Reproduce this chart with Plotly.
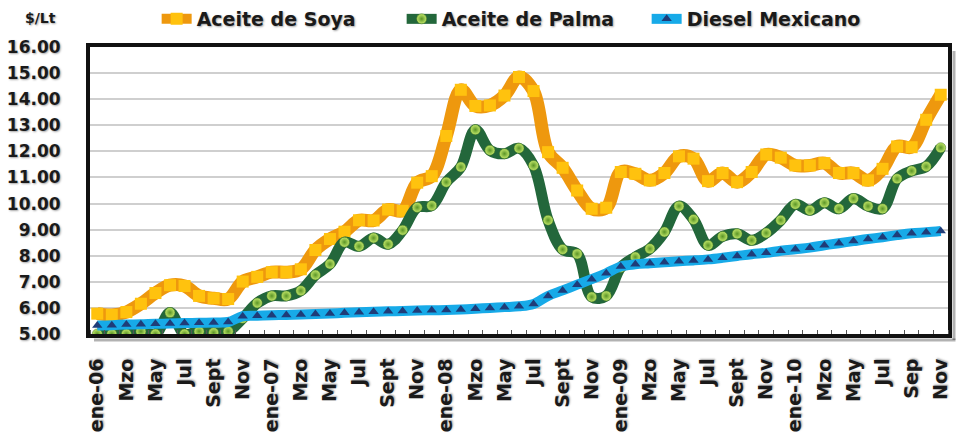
import plotly.graph_objects as go

# ---------------- data ----------------
months = ["ene", "feb", "mzo", "abr", "may", "jun", "jul", "ago", "sep", "oct", "nov", "dic"]
years = ["06", "07", "08", "09", "10"]
categories = [f"{m}-{y}" for y in years for m in months][:59]  # ene-06 .. nov-10

tick_labels = ["ene-06", "Mzo", "May", "Jul", "Sept", "Nov",
               "ene-07", "Mzo", "May", "Jul", "Sept", "Nov",
               "ene-08", "Mzo", "May", "Jul", "Sept", "Nov",
               "ene-09", "Mzo", "May", "Jul", "Sept", "Nov",
               "ene-10", "Mzo", "May", "Jul", "Sep", "Nov"]

soya = [5.78, 5.73, 5.84, 6.16, 6.57, 6.87, 6.84, 6.46, 6.37, 6.34,
        7.01, 7.19, 7.37, 7.37, 7.48, 8.22, 8.64, 8.92, 9.36, 9.35,
        9.77, 9.72, 10.80, 11.05, 12.59, 14.36, 13.74, 13.76, 14.14, 14.85,
        14.31, 11.97, 11.37, 10.50, 9.80, 9.84, 11.21, 11.14, 10.89, 11.17,
        11.81, 11.72, 10.86, 11.17, 10.82, 11.21, 11.88, 11.76, 11.46, 11.46,
        11.55, 11.17, 11.17, 10.89, 11.33, 12.19, 12.16, 13.21, 14.17]

palma = [5.00, 5.00, 5.00, 5.10, 5.00, 5.82, 5.00, 5.10, 5.05, 5.10,
         5.60, 6.19, 6.46, 6.46, 6.66, 7.26, 7.68, 8.52, 8.36, 8.68,
         8.44, 8.98, 9.85, 9.92, 10.82, 11.40, 12.83, 12.04, 11.91, 12.12,
         11.46, 9.36, 8.24, 8.07, 6.42, 6.46, 7.55, 7.95, 8.27, 8.91,
         9.90, 9.39, 8.40, 8.74, 8.84, 8.59, 8.87, 9.36, 9.97, 9.74,
         10.03, 9.80, 10.19, 9.90, 9.80, 10.95, 11.25, 11.42, 12.14]

diesel = [5.33, 5.34, 5.36, 5.37, 5.39, 5.40, 5.42, 5.43, 5.44, 5.46,
          5.68, 5.70, 5.72, 5.73, 5.75, 5.77, 5.79, 5.81, 5.83, 5.85,
          5.87, 5.88, 5.90, 5.91, 5.92, 5.94, 5.97, 6.00, 6.03, 6.06,
          6.15, 6.46, 6.67, 6.89, 7.10, 7.33, 7.59, 7.67, 7.71, 7.75,
          7.79, 7.82, 7.86, 7.92, 7.99, 8.06, 8.11, 8.19, 8.25, 8.31,
          8.40, 8.48, 8.56, 8.64, 8.71, 8.79, 8.86, 8.90, 8.95]

y_ticks = [5, 6, 7, 8, 9, 10, 11, 12, 13, 14, 15, 16]

# ---------------- figure ----------------
x = list(range(len(categories)))
tick_vals = list(range(0, len(categories), 2))

FONT = "DejaVu Sans"
TXT = "#1a1a1a"
SHADOW = "1px 1px 2px rgba(0,0,0,0.35)"

fig = go.Figure()

fig.add_trace(go.Scatter(
    x=x, y=soya, name="Aceite de Soya", mode="lines+markers",
    line=dict(color="#EE980E", width=13, shape="spline", smoothing=1),
    marker=dict(symbol="square", size=12, color="#FFC20E",
                line=dict(width=0)),
    customdata=categories,
))
fig.add_trace(go.Scatter(
    x=x, y=palma, name="Aceite de Palma", mode="lines+markers",
    line=dict(color="#23673B", width=11, shape="spline", smoothing=1),
    marker=dict(symbol="circle", size=10, color="#C2E86A",
                gradient=dict(type="radial", color="#5A9426"),
                line=dict(width=0.5, color="#3c6e1c")),
    customdata=categories,
))
fig.add_trace(go.Scatter(
    x=x, y=diesel, name="Diesel Mexicano", mode="lines+markers",
    line=dict(color="#17AAE8", width=10, shape="spline", smoothing=1),
    marker=dict(symbol="triangle-up", size=9, color="#1F3C78",
                line=dict(width=0)),
    customdata=categories,
))

fig.update_layout(
    width=956, height=433,
    paper_bgcolor="white", plot_bgcolor="white",
    margin=dict(l=90, r=8, t=47, b=99, autoexpand=False),
    font=dict(family=FONT, color=TXT),
    showlegend=True,
    legend=dict(
        orientation="h", x=0.506, xanchor="center",
        yref="container", y=1.0, yanchor="top",
        font=dict(family=FONT, size=19, color=TXT, weight="bold", shadow=SHADOW),
        itemwidth=30, entrywidth=200, bgcolor="rgba(0,0,0,0)",
    ),
    xaxis=dict(
        range=[-0.5, len(categories) - 0.5], automargin=False,
        tickvals=tick_vals, ticktext=tick_labels, tickangle=-90,
        tickfont=dict(family=FONT, size=19, color=TXT, weight="bold", shadow=SHADOW),
        showgrid=False, zeroline=False,
        showline=True, linecolor="#111111", linewidth=4, mirror=True,
        ticks="", ticklabelstandoff=13,
        minor=dict(ticks="inside", dtick=1, tick0=-0.5, ticklen=4,
                   tickcolor="#555555", tickwidth=1, showgrid=False),
    ),
    yaxis=dict(
        range=[5, 16], tickvals=y_ticks, automargin=False,
        ticktext=[f"{v:.2f}" for v in y_ticks],
        tickfont=dict(family=FONT, size=17, color=TXT, weight="bold", shadow=SHADOW),
        showgrid=True, gridcolor="#CFCFCF", gridwidth=2,
        zeroline=False,
        showline=True, linecolor="#111111", linewidth=4, mirror=True,
        ticks="", ticklabelstandoff=22,
    ),
)

# soft drop shadow of the plot frame (right and bottom)
pw, ph = 956 - 90 - 8, 433 - 47 - 99
fig.add_shape(type="line", xref="paper", yref="paper",
              x0=1 + 6 / pw, x1=1 + 6 / pw, y0=-6 / ph, y1=1 - 4 / ph,
              line=dict(color="rgba(0,0,0,0.3)", width=3))
fig.add_shape(type="line", xref="paper", yref="paper",
              x0=4 / pw, x1=1 + 7.5 / pw, y0=-6 / ph, y1=-6 / ph,
              line=dict(color="rgba(0,0,0,0.3)", width=3))

fig.add_annotation(
    text="$/Lt", xref="paper", yref="paper",
    x=-0.058, y=1.1, xanchor="center", yanchor="middle",
    showarrow=False,
    font=dict(family=FONT, size=14, color=TXT, weight="bold", shadow=SHADOW),
)

fig.write_html(
    "out.html",
    config={"displayModeBar": False},
    post_script="document.body.style.margin='0';document.body.style.overflow='hidden';",
)
